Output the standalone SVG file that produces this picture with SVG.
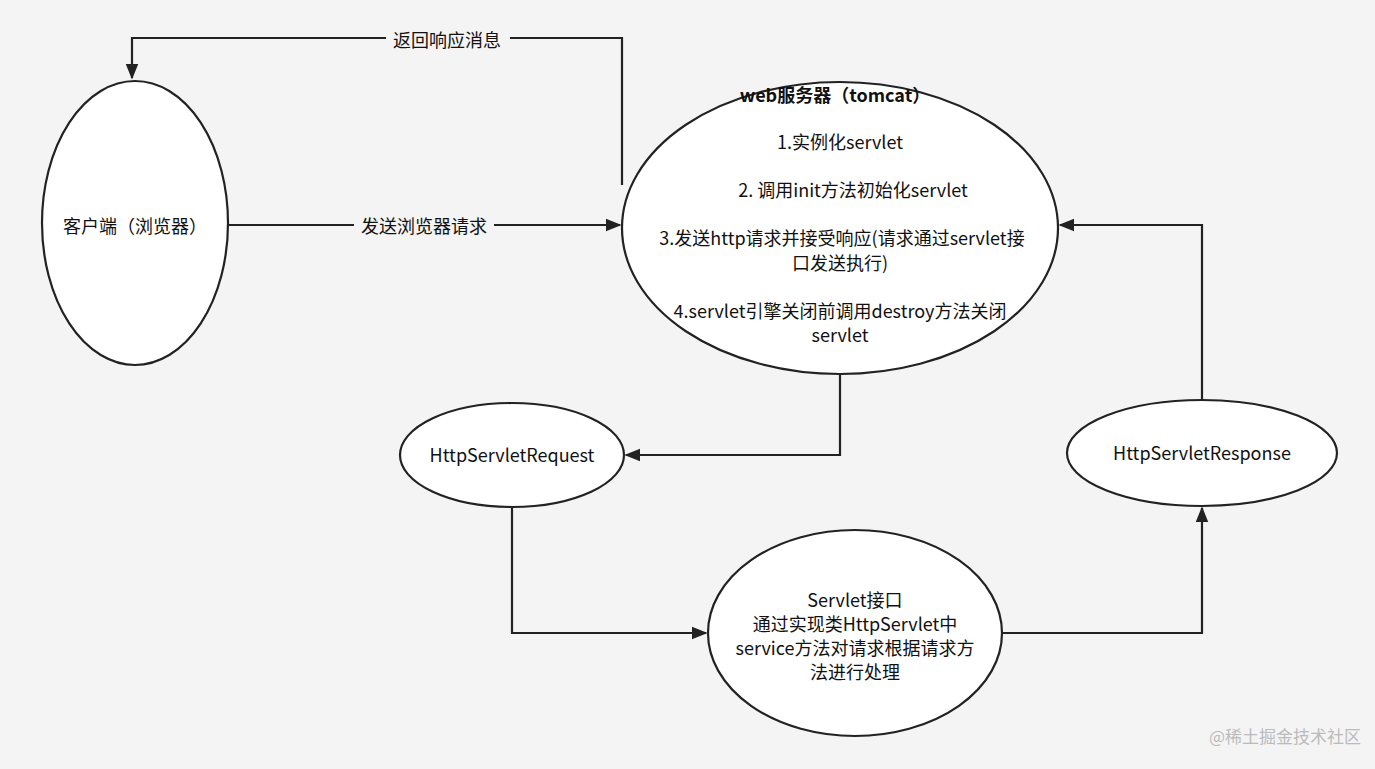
<svg xmlns="http://www.w3.org/2000/svg" width="1375" height="769" viewBox="0 0 1375 769">
<style>
.n{fill:#fff;stroke:#222;stroke-width:2.2}
.c{fill:none;stroke:#222;stroke-width:2.2}
text{font-family:"Noto Sans CJK SC","Noto Sans",sans-serif;font-size:18px;fill:#111;text-anchor:middle}
.lb{fill:#f4f4f4}
</style>
<defs><marker id="b" viewBox="0 0 10 10" refX="9" refY="5" markerWidth="16" markerHeight="16" markerUnits="userSpaceOnUse" orient="auto"><path d="M0,1 L10,5 L0,9 z" fill="#222"/></marker></defs>
<rect width="1375" height="769" fill="#f4f4f4"/>
<g id="connectors">
<path class="c" d="M622,185 V38 H132 V78" marker-end="url(#b)"/>
<rect class="lb" x="386" y="28" width="124" height="24"/>
<text x="447" y="47">返回响应消息</text>
<path class="c" d="M228,225 H620" marker-end="url(#b)"/>
<rect class="lb" x="354" y="214" width="140" height="24"/>
<text x="424" y="233">发送浏览器请求</text>
<path class="c" d="M840,374 V455 H626" marker-end="url(#b)"/>
<path class="c" d="M512,507 V633 H706" marker-end="url(#b)"/>
<path class="c" d="M1002,633 H1202 V508" marker-end="url(#b)"/>
<path class="c" d="M1202,400 V225 H1060" marker-end="url(#b)"/>
</g>
<g id="client"><ellipse class="n" cx="135" cy="223" rx="93" ry="142"/><text x="135" y="233">客户端（浏览器）</text></g>
<g id="web"><ellipse class="n" cx="840" cy="228" rx="218" ry="146"/>
<text x="835" y="102" font-weight="bold">web服务器（tomcat）</text>
<text x="840" y="149">1.实例化servlet</text>
<text x="853" y="197">2. 调用init方法初始化servlet</text>
<text x="842" y="245">3.发送http请求并接受响应(请求通过servlet接</text>
<text x="840" y="270">口发送执行)</text>
<text x="840" y="318">4.servlet引擎关闭前调用destroy方法关闭</text>
<text x="840" y="342">servlet</text></g>
<g id="req"><ellipse class="n" cx="512" cy="455" rx="112" ry="52"/><text x="512" y="462">HttpServletRequest</text></g>
<g id="resp"><ellipse class="n" cx="1202" cy="453" rx="135" ry="53"/><text x="1202" y="460">HttpServletResponse</text></g>
<g id="servlet"><ellipse class="n" cx="855" cy="633" rx="147" ry="103"/>
<text x="855" y="607">Servlet接口</text>
<text x="855" y="631">通过实现类HttpServlet中</text>
<text x="855" y="655">service方法对请求根据请求方</text>
<text x="855" y="679">法进行处理</text></g>
<text x="1285" y="743" style="font-size:17px;fill:#bbb">@稀土掘金技术社区</text>
</svg>
